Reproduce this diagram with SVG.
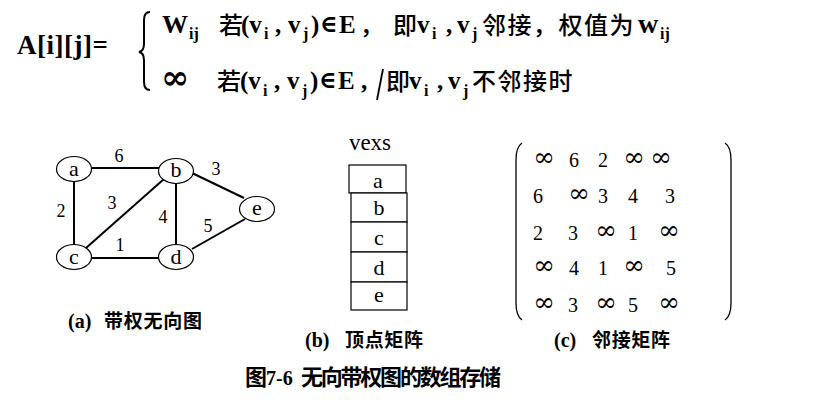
<svg xmlns="http://www.w3.org/2000/svg" width="814" height="402" viewBox="0 0 814 402">
<style>
.m{font-family:"Liberation Serif","Times New Roman",serif;font-weight:bold;font-size:25px;fill:#000}
.s{font-family:"Liberation Serif","Times New Roman",serif;font-weight:bold;font-size:16px;fill:#000}
.el8{font-family:"DejaVu Serif",serif;font-size:24px;font-weight:bold;fill:#000}
.c{font-family:"Noto Sans CJK SC",sans-serif;font-size:24px;font-weight:500;fill:#000}
.cap{font-family:"Liberation Serif","Noto Sans CJK SC",sans-serif;font-weight:bold;font-size:20px;fill:#000}
.capc{font-family:"Noto Sans CJK SC",sans-serif;font-size:19px;font-weight:bold;fill:#000}
.node ellipse{fill:#fff;stroke:#000;stroke-width:1.2}
.nl{font-family:"Liberation Serif","Times New Roman",serif;font-size:22px;text-anchor:middle;fill:#000}
.el{font-family:"Liberation Serif","Times New Roman",serif;font-size:18px;text-anchor:middle;fill:#000}
.edge{stroke:#000;stroke-width:2;fill:none}
.box rect{fill:#fff;stroke:#000;stroke-width:1.2}
.mx{font-family:"Liberation Serif","Times New Roman",serif;font-size:20px;text-anchor:middle;fill:#000}
.inf{font-family:"DejaVu Serif",serif;font-size:26px;text-anchor:middle;fill:#000}
.paren{stroke:#000;stroke-width:1.3;fill:none}
</style>

<g id="formula">
<text class="m" x="17" y="54" style="font-size:27px" textLength="91">A[i][j]=</text>
<path d="M150,12 Q144,12 144,20 L144,44 Q144,51 139,52 Q144,53 144,60 L144,82 Q144,90 150,90" stroke="#000" stroke-width="2" fill="none"/>
<!-- row 1 -->
<text class="m" x="162" y="33" style="font-size:26px">W</text>
<text class="s" x="189" y="39">ij</text>
<text class="c" x="219" y="34">若</text>
<text class="m" x="241" y="33">(v</text>
<text class="s" x="264" y="39">i</text>
<text class="m" x="275" y="33">,</text>
<text class="m" x="288" y="33">v</text>
<text class="s" x="303" y="39">j</text>
<text class="m" x="311" y="33">)</text>
<text class="el8" x="320" y="32">∈</text>
<text class="m" x="339" y="33">E</text>
<text class="c" x="360" y="34">，</text>
<text class="c" x="393" y="34">即</text>
<text class="m" x="417" y="33">v</text>
<text class="s" x="432" y="39">i</text>
<text class="m" x="446" y="33">,</text>
<text class="m" x="457" y="33">v</text>
<text class="s" x="472" y="39">j</text>
<text class="c" x="482" y="34" letter-spacing="1.5">邻接，权值为</text>
<text class="m" x="638" y="33" style="font-size:28px">w</text>
<text class="s" x="660" y="39">ij</text>
<!-- row 2 -->
<text class="el8" x="161" y="89" style="font-size:34px">∞</text>
<text class="c" x="217" y="90">若</text>
<text class="m" x="240" y="89">(v</text>
<text class="s" x="263" y="96">i</text>
<text class="m" x="274" y="89">,</text>
<text class="m" x="287" y="89">v</text>
<text class="s" x="302" y="96">j</text>
<text class="m" x="310" y="89">)</text>
<text class="el8" x="319" y="88">∈</text>
<text class="m" x="338" y="89">E</text>
<text class="m" x="361" y="89">,</text>
<line x1="383" y1="69" x2="377" y2="100" stroke="#000" stroke-width="1.8"/>
<text class="c" x="386" y="90">即</text>
<text class="m" x="409" y="89">v</text>
<text class="s" x="424" y="96">i</text>
<text class="m" x="437" y="89">,</text>
<text class="m" x="448" y="89">v</text>
<text class="s" x="463" y="96">j</text>
<text class="c" x="472" y="90" letter-spacing="1.5">不邻接时</text>
</g>

<g id="connectors">
<line class="edge" x1="92" y1="168" x2="159" y2="168"/>
<line class="edge" x1="74" y1="181" x2="74" y2="245"/>
<line class="edge" x1="86" y1="248" x2="164" y2="179"/>
<line class="edge" x1="92" y1="258" x2="158" y2="258"/>
<line class="edge" x1="176" y1="183" x2="176" y2="245"/>
<line class="edge" x1="192" y1="173" x2="244" y2="198"/>
<line class="edge" x1="192" y1="249" x2="245" y2="219"/>
</g>
<g id="edge-labels">
<text class="el" x="119" y="162">6</text>
<text class="el" x="61" y="217">2</text>
<text class="el" x="112" y="209">3</text>
<text class="el" x="120" y="251">1</text>
<text class="el" x="216" y="175">3</text>
<text class="el" x="163" y="223">4</text>
<text class="el" x="208" y="232">5</text>
</g>
<g id="node-a" class="node"><ellipse cx="74" cy="169" rx="17.5" ry="12.5"/><text class="nl" x="74" y="176">a</text></g>
<g id="node-b" class="node"><ellipse cx="176" cy="171" rx="17.5" ry="12.5"/><text class="nl" x="176" y="177">b</text></g>
<g id="node-c" class="node"><ellipse cx="74" cy="257" rx="17.5" ry="12.5"/><text class="nl" x="74" y="264">c</text></g>
<g id="node-d" class="node"><ellipse cx="176" cy="257" rx="17.5" ry="12.5"/><text class="nl" x="176" y="264">d</text></g>
<g id="node-e" class="node"><ellipse cx="257" cy="209" rx="17.5" ry="12.5"/><text class="nl" x="257" y="215">e</text></g>
<text class="cap" x="68" y="328">(a)</text>
<text class="capc" x="104" y="328" textLength="98">带权无向图</text>

<g id="vexs" class="box">
<text class="nl" x="370" y="150" style="font-size:23px">vexs</text>
<rect x="349" y="165" width="57" height="28"/>
<rect x="351" y="193" width="56" height="29"/>
<rect x="351" y="222" width="56" height="30"/>
<rect x="351" y="252" width="56" height="30"/>
<rect x="351" y="282" width="56" height="28"/>
<text class="nl" x="378" y="188">a</text>
<text class="nl" x="379" y="215">b</text>
<text class="nl" x="379" y="245">c</text>
<text class="nl" x="379" y="275">d</text>
<text class="nl" x="379" y="302">e</text>
</g>
<text class="cap" x="305" y="347">(b)</text>
<text class="capc" x="345" y="347" textLength="78">顶点矩阵</text>

<g id="matrix">
<path class="paren" d="M522,143 Q516,147 516,160 L516,303 Q516,316 522,320"/>
<path class="paren" d="M725,143 Q731,147 731,160 L731,303 Q731,316 725,320"/>
<text class="inf" x="544" y="166">∞</text><text class="mx" x="574" y="167">6</text><text class="mx" x="603" y="167">2</text><text class="inf" x="634" y="166">∞</text><text class="inf" x="661" y="166">∞</text>
<text class="mx" x="538" y="203">6</text><text class="inf" x="579" y="202">∞</text><text class="mx" x="603" y="203">3</text><text class="mx" x="633" y="203">4</text><text class="mx" x="670" y="203">3</text>
<text class="mx" x="538" y="240">2</text><text class="mx" x="573" y="240">3</text><text class="inf" x="606" y="239">∞</text><text class="mx" x="633" y="240">1</text><text class="inf" x="669" y="239">∞</text>
<text class="inf" x="544" y="274">∞</text><text class="mx" x="574" y="275">4</text><text class="mx" x="603" y="275">1</text><text class="inf" x="634" y="274">∞</text><text class="mx" x="671" y="275">5</text>
<text class="inf" x="544" y="311">∞</text><text class="mx" x="573" y="312">3</text><text class="inf" x="606" y="311">∞</text><text class="mx" x="633" y="312">5</text><text class="inf" x="669" y="311">∞</text>
</g>
<text class="cap" x="554" y="347">(c)</text>
<text class="capc" x="592" y="347" textLength="78">邻接矩阵</text>

<g id="caption">
<text class="capc" x="245" y="385" style="font-size:22px">图</text>
<text class="cap" x="266" y="385">7-6</text>
<text class="capc" x="301" y="385" style="font-size:22px" textLength="200">无向带权图的数组存储</text>
</g>
</svg>
